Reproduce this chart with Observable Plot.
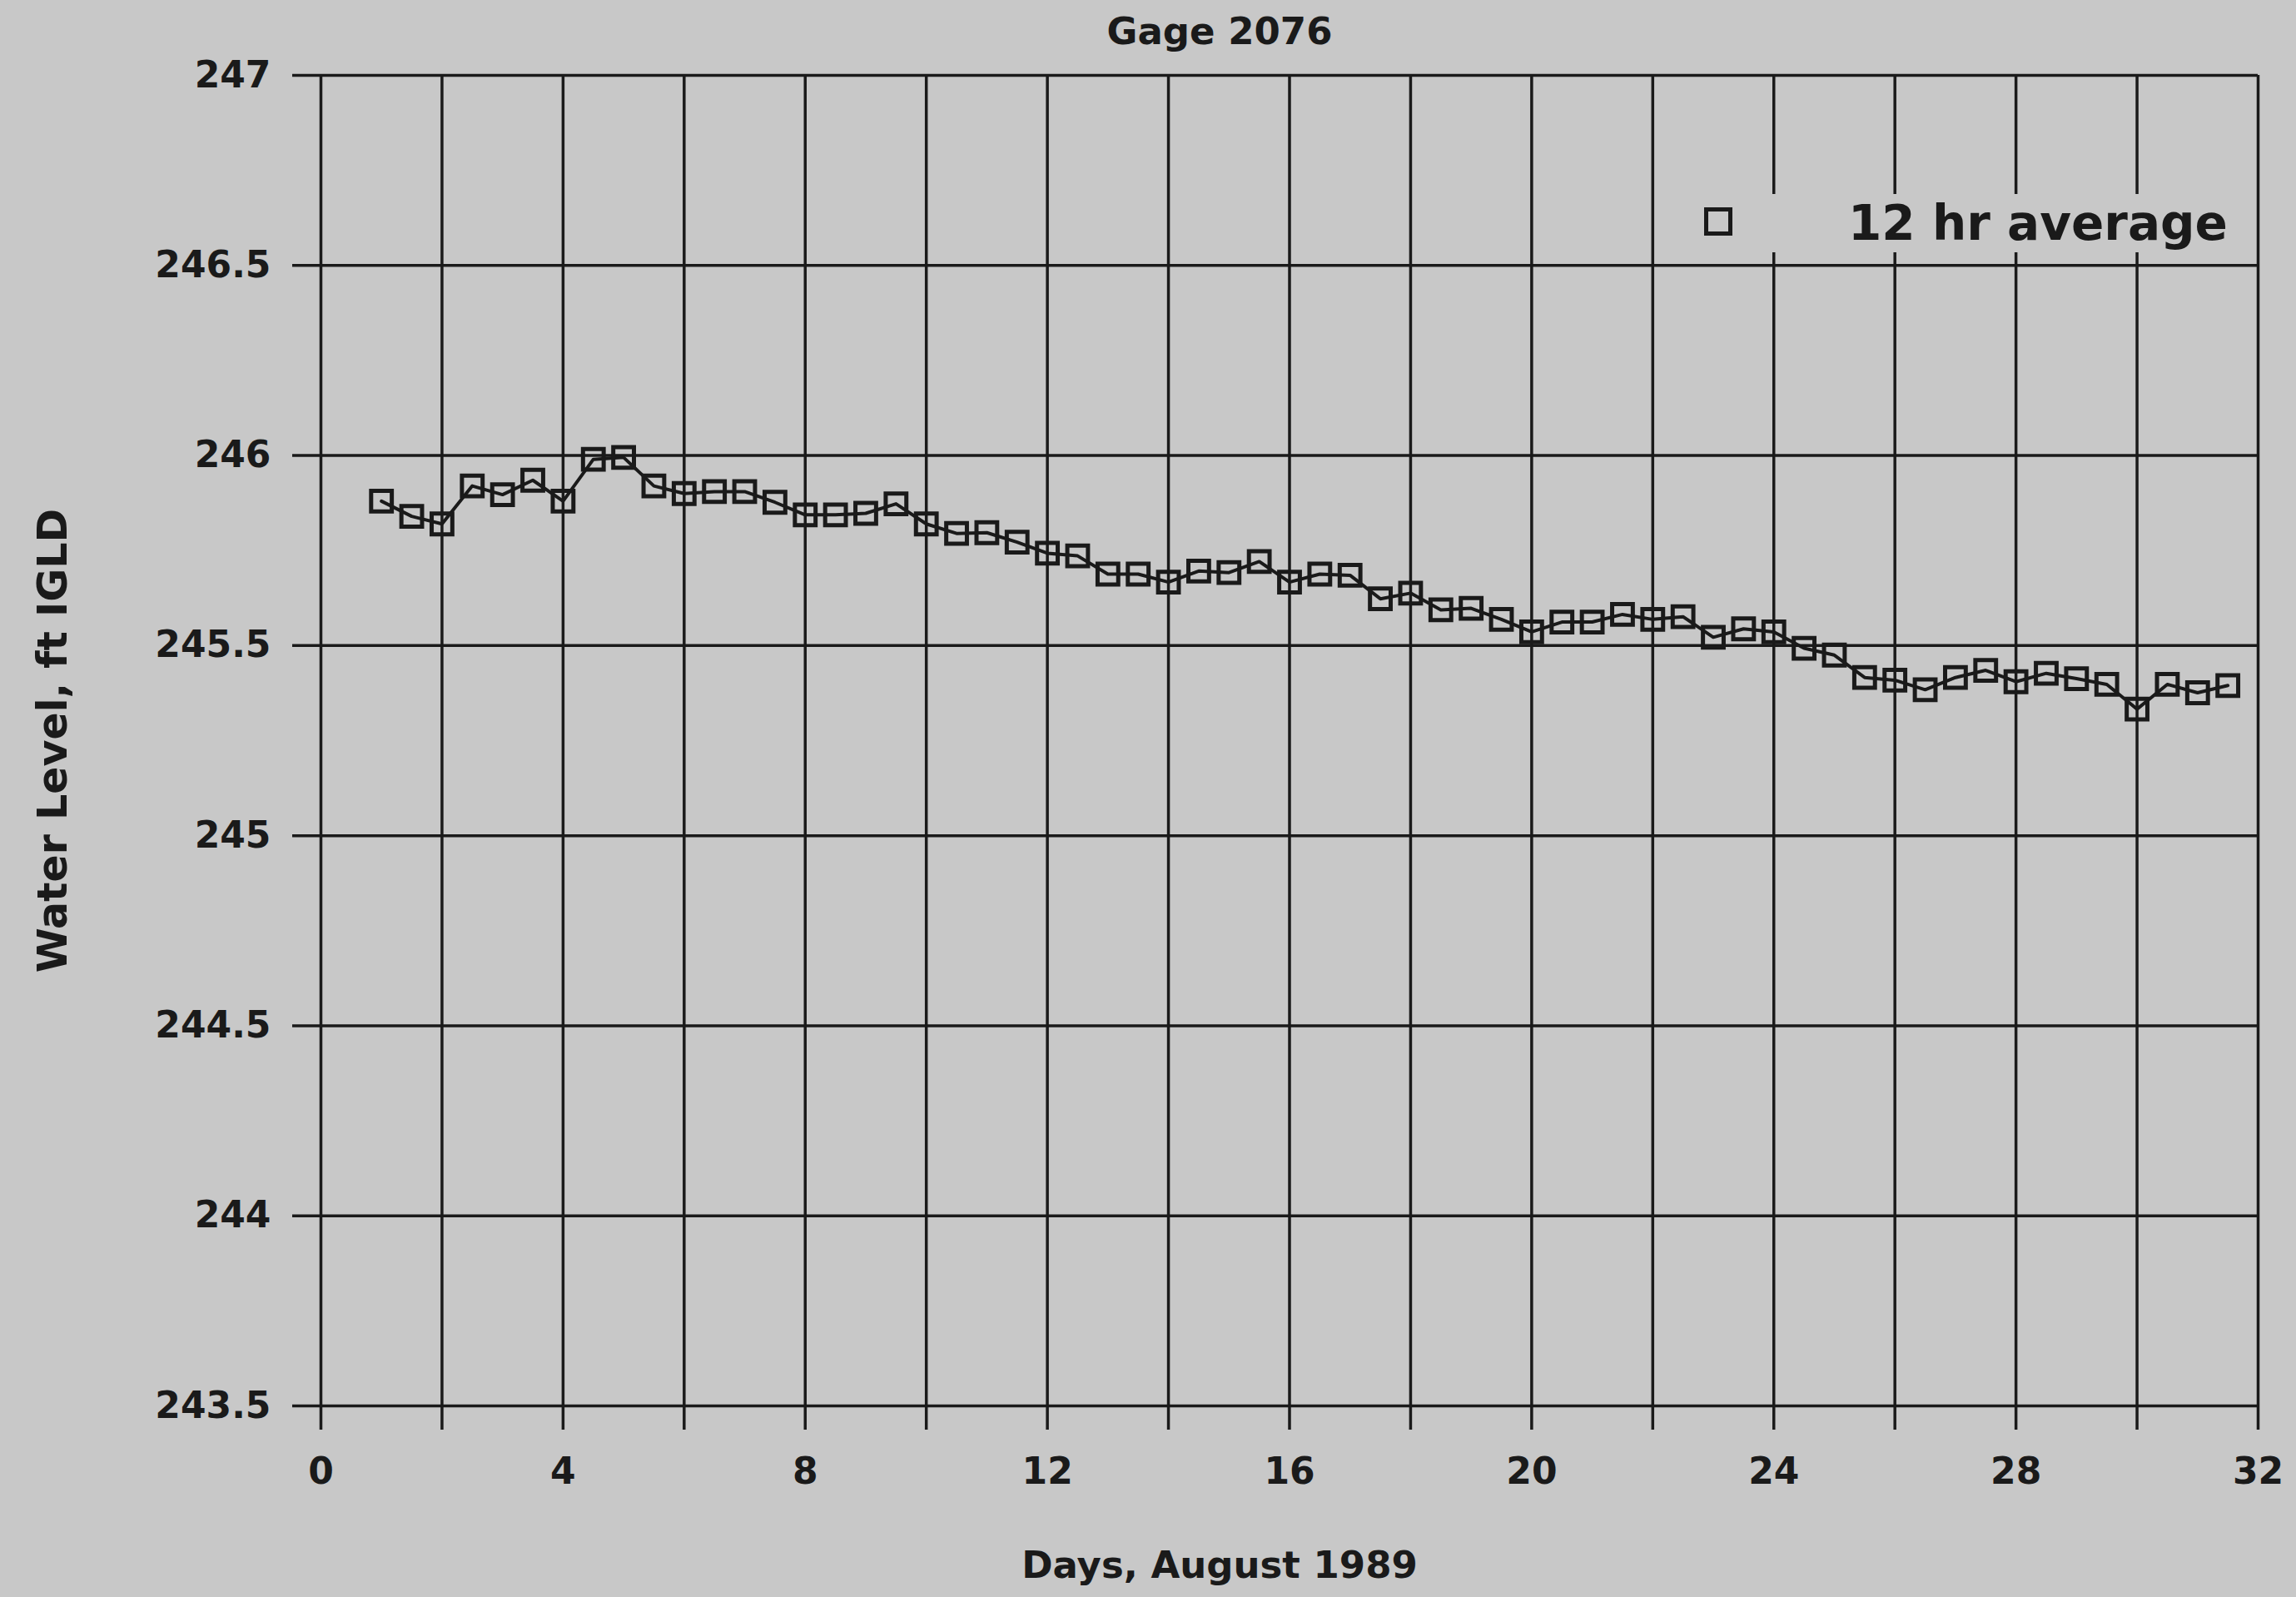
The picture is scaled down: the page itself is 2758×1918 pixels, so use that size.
<!DOCTYPE html>
<html>
<head>
<meta charset="utf-8">
<script src="https://cdn.jsdelivr.net/npm/d3@7"></script>
<script src="https://cdn.jsdelivr.net/npm/@observablehq/plot@0.6"></script>
<style>
  html, body { margin: 0; padding: 0; background: #c8c8c8; overflow: hidden; }
  #page { position: relative; width: 2758px; height: 1918px; background: #c8c8c8; color: #1a1a1a;
          font-family: "DejaVu Sans", sans-serif; font-weight: bold; }
  #title { height: 70px; line-height: 76px; font-size: 45px; text-align: center; padding-left: 172px; box-sizing: border-box; }
  #caption { height: 80px; line-height: 84px; font-size: 45px; text-align: center; padding-left: 172px; box-sizing: border-box; }
  #legend { position: absolute; left: 2012px; top: 233px; width: 692px; height: 70px; background: #c8c8c8; }
  #legend .key { position: absolute; left: 35px; top: 16px; width: 24px; height: 24px; border: 5px solid #1a1a1a; }
  #legend .lab { position: absolute; left: 208px; top: 0; font-size: 58px; line-height: 70px; white-space: nowrap; }
</style>
</head>
<body>
<div id="page">
  <div id="title">Gage 2076</div>
  <div id="chart"></div>
  <div id="caption">Days, August 1989</div>
  <div id="legend"><div class="key"></div><div class="lab">12 hr average</div></div>
</div>
<script>
// Gage 2076 — 12-hour average water levels, August 1989 (ft, IGLD)
const days = [
  1.0, 1.5, 2.0, 2.5, 3.0, 3.5, 4.0, 4.5, 5.0, 5.5,
  6.0, 6.5, 7.0, 7.5, 8.0, 8.5, 9.0, 9.5, 10.0, 10.5,
  11.0, 11.5, 12.0, 12.5, 13.0, 13.5, 14.0, 14.5, 15.0, 15.5,
  16.0, 16.5, 17.0, 17.5, 18.0, 18.5, 19.0, 19.5, 20.0, 20.5,
  21.0, 21.5, 22.0, 22.5, 23.0, 23.5, 24.0, 24.5, 25.0, 25.5,
  26.0, 26.5, 27.0, 27.5, 28.0, 28.5, 29.0, 29.5, 30.0, 30.5,
  31.0, 31.5
];
const levels = [
  245.880, 245.840, 245.820, 245.920, 245.897, 245.935, 245.880, 245.990, 245.995, 245.920,
  245.900, 245.905, 245.905, 245.877, 245.844, 245.844, 245.848, 245.873, 245.820, 245.795,
  245.797, 245.772, 245.743, 245.736, 245.688, 245.688, 245.667, 245.696, 245.692, 245.721,
  245.667, 245.688, 245.685, 245.623, 245.638, 245.594, 245.598, 245.569, 245.536, 245.562,
  245.562, 245.582, 245.569, 245.576, 245.522, 245.544, 245.536, 245.493, 245.475, 245.416,
  245.409, 245.384, 245.416, 245.435, 245.405, 245.427, 245.413, 245.398, 245.333, 245.398,
  245.376, 245.395
];

// Axis ticks: day gridlines every 2 (labelled every 4), level gridlines every 0.5 ft
const xTicks = [0, 2, 4, 6, 8, 10, 12, 14, 16, 18, 20, 22, 24, 26, 28, 30, 32];
const xTickLabels = ["0", "", "4", "", "8", "", "12", "", "16", "", "20", "", "24", "", "28", "", "32"];
const yTicks = [243.5, 244, 244.5, 245, 245.5, 246, 246.5, 247];
const yTickLabels = ["243.5", "244", "244.5", "245", "245.5", "246", "246.5", "247"];

const ink = "#1a1a1a";
const data = days.map((d, i) => ({day: d, level: levels[i]}));

const chart = Plot.plot({
  width: 2758,
  height: 1768,
  marginLeft: 385,
  marginRight: 46,
  marginTop: 20,
  marginBottom: 150,
  style: {background: "transparent", color: ink, fontFamily: "DejaVu Sans", fontWeight: "bold", fontSize: "44px", overflow: "visible"},
  x: {domain: [0, 32]},
  y: {domain: [243.5, 247]},
  marks: [
    Plot.gridX(xTicks, {stroke: ink, strokeOpacity: 1, strokeWidth: 3.5}),
    Plot.gridY(yTicks, {stroke: ink, strokeOpacity: 1, strokeWidth: 3.5}),
    Plot.axisX({
      ticks: xTicks, tickSize: 29, tickPadding: 33, strokeWidth: 3.5,
      tickFormat: (d) => xTickLabels[xTicks.indexOf(d)], label: null, fontSize: 44
    }),
    Plot.axisY({
      ticks: yTicks, tickSize: 34, tickPadding: 26, strokeWidth: 3.5,
      tickFormat: (d) => yTickLabels[yTicks.indexOf(d)],
      label: "Water Level, ft IGLD", labelAnchor: "center", labelArrow: "none", labelOffset: 340, fontSize: 44
    }),
    Plot.line(data, {x: "day", y: "level", stroke: ink, strokeWidth: 4}),
    Plot.dot(data, {x: "day", y: "level", symbol: "square", r: 14, stroke: ink, strokeWidth: 5, fill: "none"})
  ]
});
// the rotated axis title is set a little larger than the tick labels
const yLabel = chart.querySelector('[aria-label="y-axis label"]');
if (yLabel) yLabel.setAttribute("font-size", 49);
document.getElementById("chart").appendChild(chart);
</script>
</body>
</html>
